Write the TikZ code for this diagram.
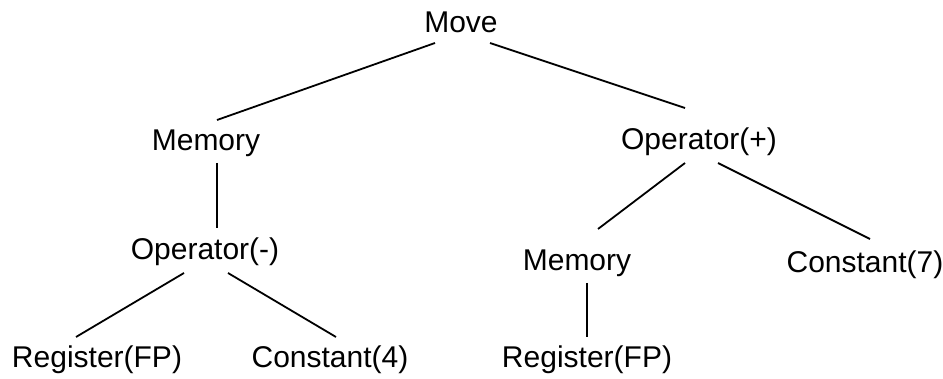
\documentclass[tikz,border=0pt]{standalone}
\usepackage{fontspec}
\setmainfont{Liberation Sans}
\begin{document}
\begin{tikzpicture}[x=1pt,y=-1pt,
  lbl/.style={inner sep=0pt, anchor=base, font=\fontsize{30}{35}\selectfont},
  edge/.style={line width=1.8pt, line cap=butt}]
\useasboundingbox (0,0) rectangle (943,379);
\node[lbl] (move)   at (461,33)  {Move};
\node[lbl] (memL)   at (206,151) {Memory};
\node[lbl] (opP)    at (699,150) {Operator(+)};
\node[lbl] (opM)    at (205,260) {Operator(-)};
\node[lbl] (memR)   at (577,271) {Memory};
\node[lbl] (const7) at (865,273) {Constant(7)};
\node[lbl] (regL)   at (97,368)  {Register(FP)};
\node[lbl] (const4) at (330,368) {Constant(4)};
\node[lbl] (regR)   at (587,368) {Register(FP)};
\draw[edge] ([shift={(-26,10)}]move.base) -- ([shift={(11,-31)}]memL.base);
\draw[edge] ([shift={(29,10)}]move.base) -- ([shift={(-14,-42)}]opP.base);
\draw[edge] ([shift={(11,12)}]memL.base) -- ([shift={(12,-32)}]opM.base);
\draw[edge] ([shift={(-21,13)}]opM.base) -- ([shift={(-21,-31)}]regL.base);
\draw[edge] ([shift={(23,13)}]opM.base) -- ([shift={(6,-31)}]const4.base);
\draw[edge] ([shift={(-14,13)}]opP.base) -- ([shift={(21,-42)}]memR.base);
\draw[edge] ([shift={(19,13)}]opP.base) -- ([shift={(5,-34)}]const7.base);
\draw[edge] ([shift={(10,12)}]memR.base) -- ([shift={(0,-31)}]regR.base);
\end{tikzpicture}
\end{document}
